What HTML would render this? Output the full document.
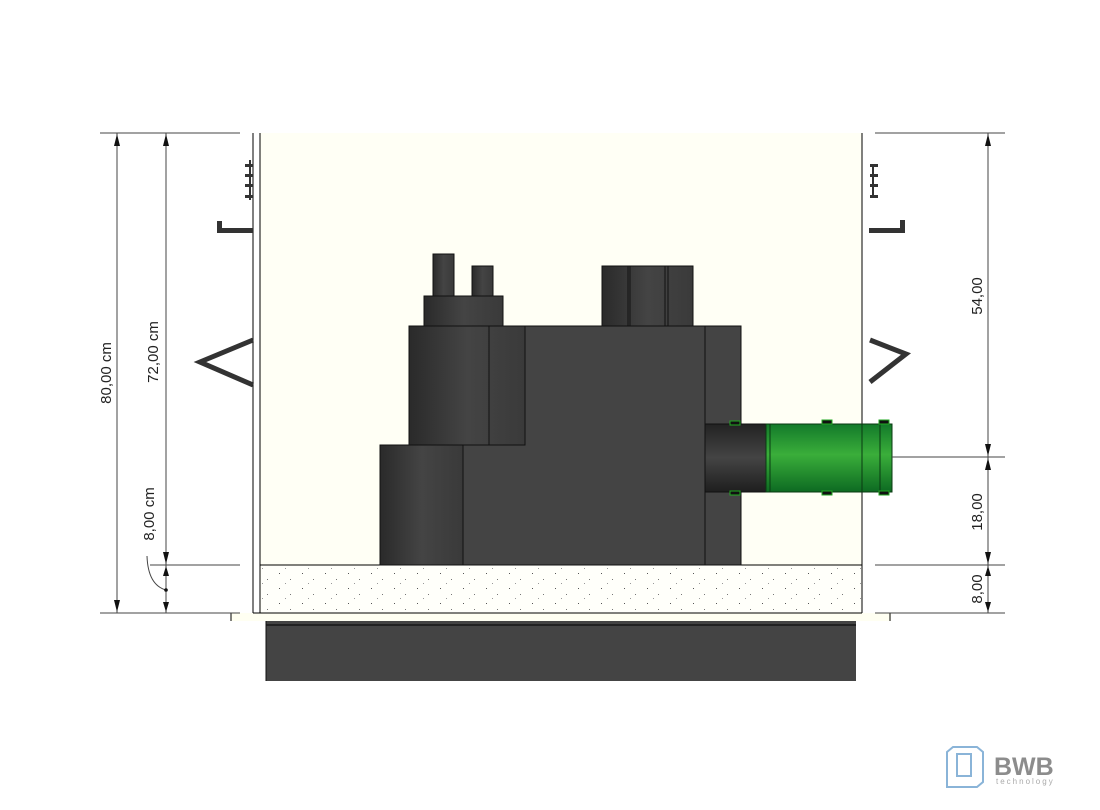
<!DOCTYPE html>
<html><head><meta charset="utf-8"><style>
html,body{margin:0;padding:0;background:#fff;}
svg{display:block;font-family:"Liberation Sans",sans-serif;}
</style></head><body>
<svg width="1100" height="810" viewBox="0 0 1100 810" xmlns="http://www.w3.org/2000/svg">
<defs>
<linearGradient id="cyl" x1="0" x2="1" y1="0" y2="0">
<stop offset="0" stop-color="#2a2a2a"/><stop offset="0.5" stop-color="#444"/><stop offset="1" stop-color="#3a3a3a"/></linearGradient>
<linearGradient id="pipeD" x1="0" x2="0" y1="0" y2="1">
<stop offset="0" stop-color="#222"/><stop offset="0.5" stop-color="#444"/><stop offset="1" stop-color="#1e1e1e"/></linearGradient>
<linearGradient id="pipeG" x1="0" x2="0" y1="0" y2="1">
<stop offset="0" stop-color="#137a2a"/><stop offset="0.45" stop-color="#3aae3a"/><stop offset="1" stop-color="#0d6a22"/></linearGradient>
<pattern id="dots" width="23" height="15" patternUnits="userSpaceOnUse">
<rect x="3" y="3" width="1" height="1" fill="#555"/><rect x="14" y="9" width="1" height="1" fill="#777"/><rect x="9" y="13" width="1" height="1" fill="#999"/></pattern>
</defs>
<rect x="231" y="613" width="660" height="8" fill="#fffff2"/>
<line x1="231" y1="613" x2="231" y2="621" stroke="#000"/>
<line x1="890" y1="613" x2="890" y2="621" stroke="#000"/>
<rect x="260" y="133" width="602" height="480" fill="#fffff5"/>
<rect x="261" y="565" width="601" height="48" fill="#fffffa"/>
<rect x="261" y="565" width="601" height="48" fill="url(#dots)"/>
<line x1="253" y1="133" x2="253" y2="613" stroke="#000"/>
<line x1="260" y1="133" x2="260" y2="613" stroke="#000"/>
<line x1="862" y1="133" x2="862" y2="613" stroke="#000"/>
<line x1="260" y1="565" x2="862" y2="565" stroke="#000"/>
<line x1="253" y1="613" x2="862" y2="613" stroke="#000"/>
<rect x="266" y="621" width="590" height="60" fill="#444"/>
<line x1="266" y1="625" x2="856" y2="625" stroke="#000"/>
<line x1="266" y1="621" x2="266" y2="681" stroke="#111"/>
<g fill="#333">
<rect x="245" y="164" width="8" height="3"/><rect x="245" y="174" width="8" height="3"/><rect x="245" y="184" width="8" height="3"/><rect x="245" y="195" width="8" height="3"/>
<rect x="249" y="160" width="2" height="40"/>
<rect x="217" y="221" width="5" height="12"/><rect x="217" y="228" width="36" height="5"/>
<rect x="870" y="164" width="8" height="3"/><rect x="870" y="174" width="8" height="3"/><rect x="870" y="184" width="8" height="3"/><rect x="870" y="195" width="8" height="3"/>
<rect x="872" y="164" width="2" height="34"/>
<rect x="900" y="220" width="5" height="13"/><rect x="869" y="228" width="36" height="5"/>
</g>
<polyline points="253,340 200,362 253,385" fill="none" stroke="#333" stroke-width="5"/>
<polyline points="870,340 906,354 870,382" fill="none" stroke="#333" stroke-width="5"/>
<g stroke="#111" stroke-width="1">
<rect x="433" y="254" width="21" height="42" fill="url(#cyl)"/>
<rect x="472" y="266" width="21" height="30" fill="url(#cyl)"/>
<rect x="424" y="296" width="79" height="30" fill="url(#cyl)"/>
<rect x="602" y="266" width="91" height="60" fill="url(#cyl)"/>
<rect x="463" y="326" width="278" height="239" fill="#444"/>
<rect x="409" y="326" width="116" height="119" fill="url(#cyl)"/>
<line x1="489" y1="326" x2="489" y2="445"/>
<rect x="380" y="445" width="83" height="120" fill="url(#cyl)"/>
<line x1="705" y1="326" x2="705" y2="565"/>
<line x1="628" y1="266" x2="628" y2="326"/><line x1="630" y1="266" x2="630" y2="326"/>
<line x1="665" y1="266" x2="665" y2="326"/><line x1="668" y1="266" x2="668" y2="326"/>
</g>
<rect x="705" y="424" width="61" height="68" fill="url(#pipeD)" stroke="#111"/>
<rect x="766" y="424" width="126" height="68" fill="url(#pipeG)" stroke="#0a3a12"/>
<line x1="862" y1="424" x2="862" y2="492" stroke="#0a3a12"/>
<line x1="880" y1="424" x2="880" y2="492" stroke="#0a3a12"/>
<line x1="770" y1="424" x2="770" y2="492" stroke="#0a3a12"/>
<g fill="#111" stroke="#2a2" stroke-width="1">
<rect x="730" y="421" width="10" height="4"/><rect x="730" y="491" width="10" height="4"/>
<rect x="822" y="420" width="10" height="4"/><rect x="822" y="491" width="10" height="4"/>
<rect x="879" y="420" width="10" height="4"/><rect x="879" y="491" width="10" height="4"/>
</g>
<g stroke="#444" stroke-width="1" fill="none">
<line x1="100" y1="133" x2="240" y2="133"/>
<line x1="100" y1="613" x2="240" y2="613"/>
<line x1="150" y1="565" x2="240" y2="565"/>
<line x1="117" y1="133" x2="117" y2="613"/>
<line x1="166" y1="133" x2="166" y2="613"/>
<path d="M147,556 Q148,585 166,590"/>
<line x1="875" y1="133" x2="1005" y2="133"/>
<line x1="892" y1="457" x2="1005" y2="457"/>
<line x1="875" y1="565" x2="1005" y2="565"/>
<line x1="875" y1="613" x2="1005" y2="613"/>
<line x1="988" y1="133" x2="988" y2="613"/>
</g>
<circle cx="166" cy="590" r="1.8" fill="#111"/>
<g fill="#111">
<path d="M117,134 l-3,12 h6z"/><path d="M117,612 l-3,-12 h6z"/>
<path d="M166,134 l-3,12 h6z"/><path d="M166,564 l-3,-12 h6z"/>
<path d="M166,566 l-3,10 h6z"/><path d="M166,612 l-3,-10 h6z"/>
<path d="M988,134 l-3,12 h6z"/><path d="M988,456 l-3,-12 h6z"/>
<path d="M988,458 l-3,12 h6z"/><path d="M988,564 l-3,-12 h6z"/>
<path d="M988,566 l-3,10 h6z"/><path d="M988,612 l-3,-10 h6z"/>
</g>
<g font-size="15" fill="#222">
<text transform="translate(111,373) rotate(-90)" text-anchor="middle">80,00 cm</text>
<text transform="translate(158,352) rotate(-90)" text-anchor="middle">72,00 cm</text>
<text transform="translate(154,514) rotate(-90)" text-anchor="middle">8,00 cm</text>
<text transform="translate(982,296) rotate(-90)" text-anchor="middle">54,00</text>
<text transform="translate(982,512) rotate(-90)" text-anchor="middle">18,00</text>
<text transform="translate(982,589) rotate(-90)" text-anchor="middle">8,00</text>
</g>
<g fill="none" stroke="#8ab4d8" stroke-width="2">
<path d="M947,752 l6,-5 h24 l6,5 v30 l-6,5 h-30 z"/>
<rect x="957" y="754" width="14" height="22"/>
</g>
<text x="994" y="775" font-size="25" font-weight="bold" fill="#8c8c8c">BWB</text>
<text x="996" y="784" font-size="8" fill="#aaa" letter-spacing="2">technology</text>
</svg>
</body></html>
